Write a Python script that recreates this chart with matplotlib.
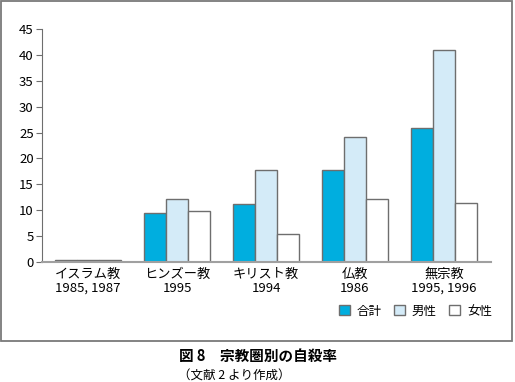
import numpy as np
import matplotlib.pyplot as plt
from matplotlib.patches import Rectangle, Patch

plt.rcParams['font.family'] = ['Noto Sans CJK JP', 'DejaVu Sans']

cats = ["イスラム教\n1985, 1987", "ヒンズー教\n1995", "キリスト教\n1994", "仏教\n1986", "無宗教\n1995, 1996"]
total = [0.4, 9.5, 11.2, 17.8, 25.8]
male = [0.4, 12.2, 17.8, 24.1, 40.9]
female = [0.4, 9.8, 5.4, 12.2, 11.3]
names = ["合計", "男性", "女性"]
colors = ["#00aedf", "#d4ebf8", "#ffffff"]
edge = "#6e6e6e"

fig = plt.figure(figsize=(5.15, 3.82), dpi=100)
fig.patches.append(Rectangle((1/515, 41/382), 511/515, 340/382, transform=fig.transFigure,
                             fill=False, edgecolor="#7a7a7a", lw=1.3))

ax = fig.add_axes([42/515, 120/382, 449/515, 233/382])
x = np.arange(len(cats))
w = 0.247
for k, (vals, c) in enumerate(zip([total, male, female], colors)):
    ax.bar(x + (k - 1) * w, vals, w, color=c, edgecolor=edge, lw=1, label=names[k])

ax.set_xlim(-0.52, 4.53)
ax.set_ylim(0, 45)
ax.set_yticks(range(0, 46, 5))
ax.set_xticks(x)
ax.set_xticklabels(cats, fontsize=9.5, linespacing=1.1)
ax.tick_params(axis='x', length=0, pad=4)
ax.tick_params(axis='y', direction='out', length=4, color=edge, labelsize=9.5, pad=2)
for s in ['top', 'right']:
    ax.spines[s].set_visible(False)
ax.spines['left'].set_color(edge)
ax.spines['bottom'].set_color("#a0a0a0")
ax.spines['bottom'].set_linewidth(1.5)

handles = [Patch(facecolor=c, edgecolor=edge, label=n) for c, n in zip(colors, names)]
fig.legend(handles=handles, loc='center right', bbox_to_anchor=(492/515, 1 - 311/382),
           ncol=3, frameon=False, fontsize=9, handlelength=0.85, handleheight=0.85,
           handletextpad=0.6, columnspacing=0.95, borderaxespad=0, borderpad=0)

fig.text(258/515, 1 - 356/382, "図 8　宗教圏別の自殺率", ha='center', va='center',
         fontsize=10.5, fontweight='bold')
fig.text(234/515, 1 - 376/382, "（文献 2 より作成）", ha='center', va='center', fontsize=9)

fig.savefig("out.png", dpi=100)
